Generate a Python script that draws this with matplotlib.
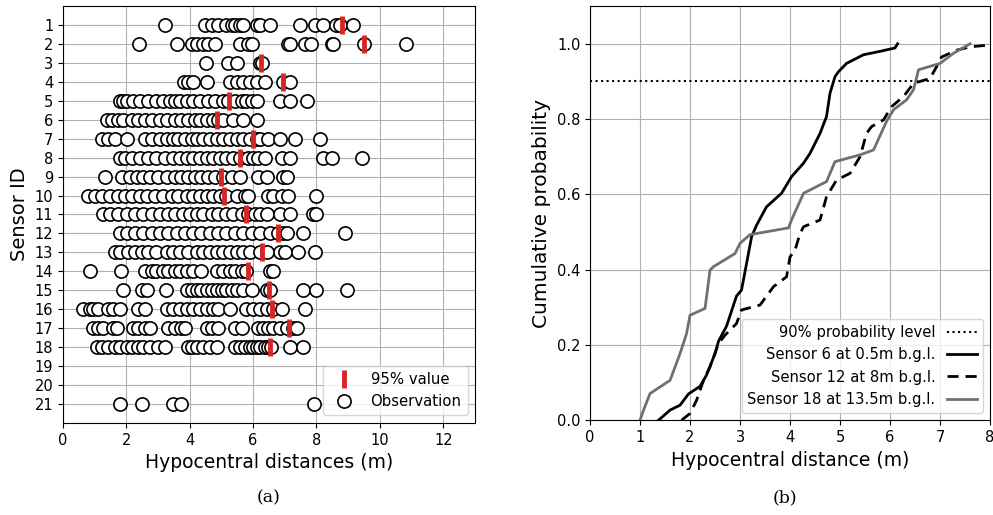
import matplotlib
matplotlib.use("Agg")
import matplotlib.pyplot as plt

# hypocentral distances (m) per sensor
s1 = [3.23, 4.48, 4.69, 4.90, 5.16, 5.32, 5.43, 5.58, 5.67, 6.11, 6.21, 6.53, 7.48, 7.95, 8.21, 8.63, 8.74, 9.16]
s2 = [2.40, 3.59, 4.06, 4.22, 4.43, 4.58, 4.79, 5.58, 5.85, 5.95, 7.11, 7.16, 7.63, 7.84, 8.48, 8.53, 9.50, 10.84]
s3 = [4.51, 5.22, 5.48, 6.21, 6.27]
s4 = [3.82, 3.95, 4.11, 4.53, 5.27, 5.48, 5.69, 5.90, 6.11, 6.37, 6.93, 7.16]
s5 = [1.80, 1.90, 2.01, 2.22, 2.43, 2.69, 2.95, 3.17, 3.38, 3.53, 3.69, 3.90, 4.11, 4.32, 4.58, 4.79,
      5.06, 5.22, 5.43, 5.64, 5.79, 5.95, 6.11, 6.85, 7.16, 7.69]
s6 = [1.38, 1.54, 1.75, 1.90, 2.17, 2.38, 2.59, 2.80, 3.06, 3.27, 3.53, 3.74, 3.95, 4.16, 4.32, 4.53,
      4.74, 4.90, 5.06, 5.37, 5.69, 6.11]
s7 = [1.22, 1.43, 1.64, 2.01, 2.59, 2.80, 3.06, 3.27, 3.48, 3.64, 3.85, 4.06, 4.22, 4.43, 4.64, 4.85,
      5.06, 5.27, 5.48, 5.69, 5.90, 6.11, 6.21, 6.48, 6.85, 7.32, 8.11]
s8 = [1.80, 1.96, 2.17, 2.43, 2.69, 2.95, 3.22, 3.48, 3.69, 3.90, 4.11, 4.32, 4.53, 4.74, 4.95, 5.16,
      5.37, 5.58, 5.85, 6.01, 6.16, 6.37, 6.90, 7.16, 8.21, 8.48, 9.45]
s9 = [1.32, 1.85, 2.11, 2.33, 2.54, 2.74, 3.01, 3.27, 3.53, 3.74, 3.95, 4.16, 4.37, 4.58, 4.79, 5.06,
      5.32, 5.58, 6.16, 6.43, 6.95, 7.06]
s10 = [0.80, 1.01, 1.22, 1.48, 1.75, 1.96, 2.17, 2.43, 2.64, 2.90, 3.17, 3.43, 3.64, 3.90, 4.11, 4.32,
       4.53, 4.74, 4.95, 5.16, 5.48, 5.74, 5.85, 6.48, 6.64, 6.90, 7.11, 8.00]
s11 = [1.27, 1.48, 1.75, 2.01, 2.27, 2.54, 2.80, 3.06, 3.32, 3.53, 3.80, 4.01, 4.22, 4.43, 4.69, 4.90,
       5.16, 5.37, 5.64, 5.85, 6.06, 6.21, 6.43, 6.85, 7.16, 7.90, 8.00]
s12 = [1.80, 2.01, 2.27, 2.54, 2.80, 3.06, 3.32, 3.59, 3.85, 4.11, 4.37, 4.64, 4.90, 5.16, 5.43, 5.69,
       5.95, 6.21, 6.53, 6.80, 6.95, 7.06, 7.56, 8.90]
s13 = [1.64, 1.80, 2.06, 2.27, 2.48, 2.69, 2.95, 3.27, 3.48, 3.69, 3.95, 4.22, 4.43, 4.64, 4.85, 5.06,
       5.27, 5.48, 5.69, 5.90, 6.21, 6.43, 6.85, 7.01, 7.42, 7.95]
s14 = [0.85, 1.83, 2.59, 2.80, 2.95, 3.17, 3.32, 3.53, 3.69, 3.90, 4.11, 4.37, 4.85, 5.06, 5.27, 5.43,
       5.64, 5.79, 6.53, 6.64]
s15 = [1.90, 2.48, 2.64, 3.25, 3.90, 4.06, 4.22, 4.37, 4.53, 4.69, 4.85, 5.01, 5.16, 5.32, 5.48, 5.69,
       5.95, 6.43, 6.53, 7.58, 8.00, 8.95]
s16 = [0.64, 0.85, 0.96, 1.12, 1.43, 1.59, 1.80, 2.38, 2.59, 3.27, 3.48, 3.69, 3.90, 4.11, 4.32, 4.53,
       4.74, 4.90, 5.27, 5.79, 6.01, 6.21, 6.43, 6.64, 6.90, 7.63]
s17 = [0.96, 1.12, 1.27, 1.59, 1.69, 2.22, 2.38, 2.59, 2.74, 3.32, 3.53, 3.74, 3.85, 4.53, 4.69, 4.90,
       5.43, 5.64, 6.16, 6.32, 6.48, 6.64, 6.85, 7.06, 7.27, 7.37]
s18 = [1.06, 1.22, 1.43, 1.64, 1.80, 2.01, 2.17, 2.38, 2.54, 2.74, 3.01, 3.22, 3.95, 4.06, 4.22, 4.43,
       4.64, 4.85, 5.43, 5.58, 5.74, 5.90, 6.01, 6.11, 6.21, 6.37, 6.48, 6.58, 7.16, 7.58]
s21 = [1.80, 2.48, 3.48, 3.74, 7.92]

sensor_ids = [1, 2, 3, 4, 5, 6, 7, 8, 9, 10, 11, 12, 13, 14, 15, 16, 17, 18, 21]
observations = [s1, s2, s3, s4, s5, s6, s7, s8, s9, s10, s11, s12, s13, s14, s15, s16, s17, s18, s21]

p95_ids = [1, 2, 3, 4, 5, 6, 7, 8, 9, 10, 11, 12, 13, 14, 15, 16, 17, 18]
p95_values = [8.81, 9.50, 6.25, 6.95, 5.25, 4.87, 6.00, 5.58, 5.00, 5.09, 5.76, 6.80, 6.29, 5.83,
              6.51, 6.59, 7.14, 6.53]

# cumulative curves, panel (b)
s6_x = [1.37, 1.60, 1.80, 1.97, 2.20, 2.33, 2.50, 2.57, 2.73, 2.93, 3.03, 3.13, 3.23, 3.33, 3.53,
        3.83, 4.03, 4.27, 4.40, 4.60, 4.73, 4.80, 4.90, 4.97, 5.13, 5.47, 5.80, 6.10, 6.15]
s6_p = [0.0, 0.027, 0.04, 0.07, 0.09, 0.12, 0.177, 0.21, 0.25, 0.33, 0.346, 0.416, 0.487, 0.518, 0.567,
        0.603, 0.647, 0.683, 0.709, 0.762, 0.807, 0.869, 0.913, 0.926, 0.948, 0.971, 0.98, 0.989, 1.0]
s12_x = [1.83, 2.00, 2.13, 2.27, 2.40, 2.57, 2.70, 2.93, 3.03, 3.40, 3.67, 3.93, 4.00, 4.10, 4.20,
         4.27, 4.60, 4.73, 4.93, 5.20, 5.40, 5.53, 5.63, 5.87, 6.03, 6.27, 6.47, 6.80, 6.93, 7.03,
         7.33, 7.60, 8.00, 8.90]
s12_p = [0.0, 0.018, 0.053, 0.106, 0.142, 0.204, 0.226, 0.257, 0.293, 0.306, 0.355, 0.381, 0.434, 0.452,
         0.496, 0.514, 0.532, 0.594, 0.638, 0.656, 0.700, 0.762, 0.780, 0.798, 0.833, 0.860, 0.895,
         0.908, 0.939, 0.965, 0.983, 0.992, 0.997, 1.0]
s18_x = [1.00, 1.07, 1.20, 1.60, 1.80, 1.93, 2.00, 2.30, 2.40, 2.47, 2.90, 3.00, 3.20, 3.97, 4.03,
         4.27, 4.73, 4.90, 5.40, 5.67, 5.93, 6.07, 6.33, 6.47, 6.57, 7.00, 7.27, 7.60]
s18_p = [0.0, 0.027, 0.071, 0.106, 0.177, 0.230, 0.279, 0.297, 0.399, 0.408, 0.443, 0.470, 0.493, 0.511,
         0.532, 0.603, 0.634, 0.687, 0.705, 0.718, 0.794, 0.825, 0.851, 0.878, 0.931, 0.948, 0.975, 1.0]
level = 0.9

fig = plt.figure(figsize=(9.93, 5.15), dpi=100)
ax1 = fig.add_axes([0.0634, 0.179, 0.4149, 0.809])
ax2 = fig.add_axes([0.5942, 0.184, 0.4028, 0.804])

for sid, obs in zip(sensor_ids, observations):
    ax1.plot(obs, [sid] * len(obs), 'o', mfc='white', mec='black', ms=9.5, mew=1.2, zorder=3)
ax1.plot(p95_values, p95_ids, '|', color='#d62728', ms=13, mew=3.5, zorder=4)
ax1.plot([], [], '|', color='#d62728', ms=13, mew=3.5, label='95% value')
ax1.plot([], [], 'o', mfc='white', mec='black', ms=9.5, mew=1.2, label='Observation')
ax1.set_xlim(0, 13)
ax1.set_ylim(22, 0)
ax1.set_yticks(range(1, 22))
ax1.set_xticks(range(0, 13, 2))
ax1.grid(True, color='#b0b0b0')
ax1.set_axisbelow(True)
ax1.tick_params(labelsize=10.5)
ax1.set_xlabel('Hypocentral distances (m)', fontsize=13.5)
ax1.set_ylabel('Sensor ID', fontsize=14)
ax1.legend(loc='lower right', fontsize=10.7)

ax2.axhline(level, color='black', ls=':', lw=1.5, label='90% probability level')
ax2.plot(s6_x, s6_p, color='black', lw=2, label='Sensor 6 at 0.5m b.g.l.')
ax2.plot(s12_x, s12_p, color='black', lw=2, ls=(0, (4, 2.5)), label='Sensor 12 at 8m b.g.l.')
ax2.plot(s18_x, s18_p, color='#707070', lw=2, label='Sensor 18 at 13.5m b.g.l.')
ax2.set_xlim(0, 8)
ax2.set_ylim(0, 1.1)
ax2.set_yticks([0, 0.2, 0.4, 0.6, 0.8, 1.0])
ax2.grid(True, color='#b0b0b0')
ax2.set_axisbelow(True)
ax2.tick_params(labelsize=10.5)
ax2.set_xlabel('Hypocentral distance (m)', fontsize=13.5)
ax2.set_ylabel('Cumulative probability', fontsize=14.5)
ax2.legend(loc='lower right', fontsize=10.6, markerfirst=False)

fig.text(0.27, 0.033, '(a)', family='DejaVu Serif', fontsize=12.5, ha='center', va='center')
fig.text(0.79, 0.033, '(b)', family='DejaVu Serif', fontsize=12.5, ha='center', va='center')

fig.savefig('out.png', dpi=100)
